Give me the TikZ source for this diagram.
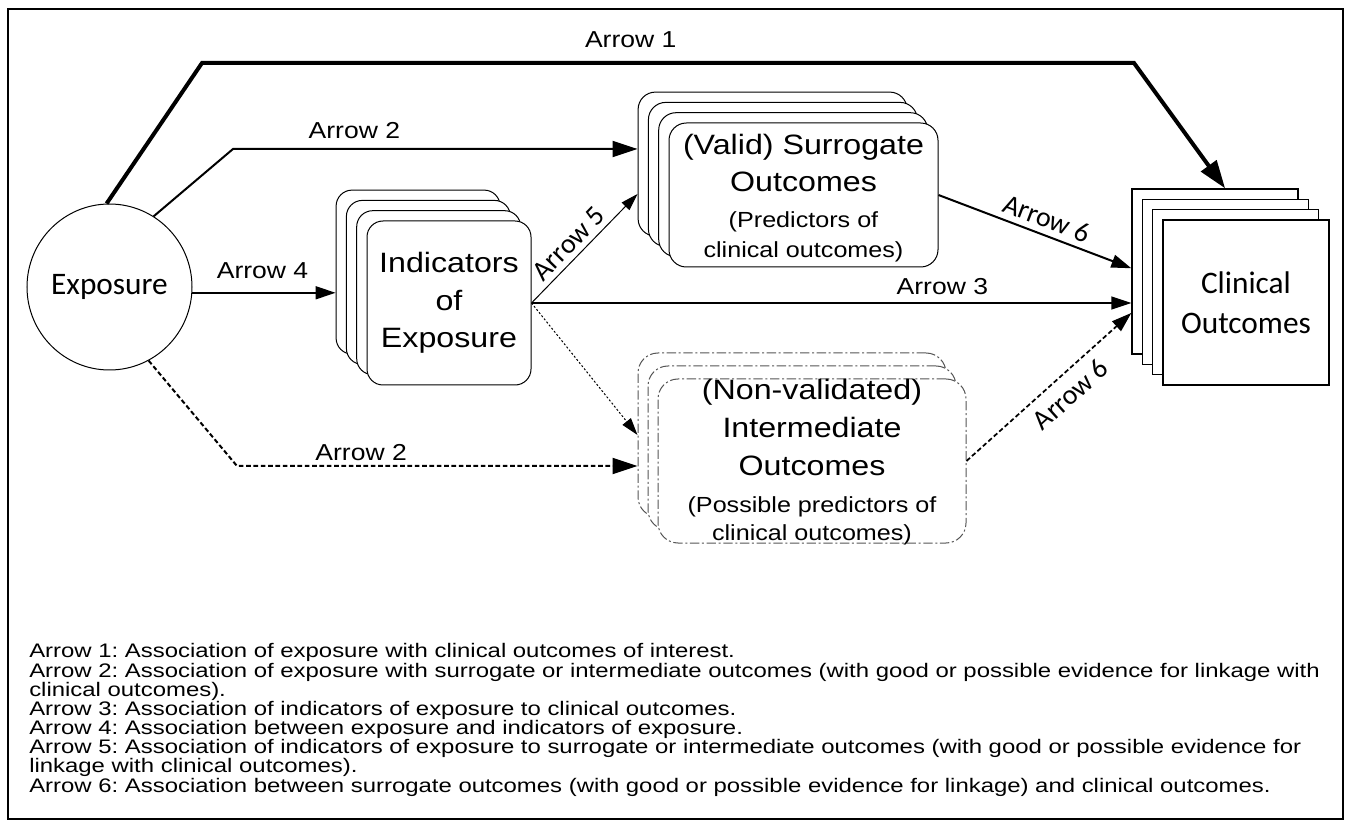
\documentclass[tikz,border=0pt]{standalone}
\usepackage{fontspec}
\usetikzlibrary{arrows.meta,shapes.geometric,positioning}

\newfontfamily\calib{Carlito}
\newfontfamily\arialw[FakeStretch=1.15]{Liberation Sans}
\newfontfamily\notew[FakeStretch=1.22]{Liberation Sans}
\newcommand{\calibtxt}{\calib\fontsize{23.5pt}{30pt}\selectfont}
\newcommand{\slbltxt}{\calib\fontsize{21pt}{24pt}\selectfont}
\newcommand{\bigtxt}{\arialw\fontsize{21pt}{28pt}\selectfont}
\newcommand{\subtxt}{\arialw\fontsize{16.4pt}{22pt}\selectfont}
\newcommand{\lbltxt}{\arialw\fontsize{17.3pt}{20pt}\selectfont}
\newcommand{\notetxt}{\notew\fontsize{14.7pt}{14.36pt}\selectfont\lineskiplimit=-20pt\frenchspacing}
\definecolor{dashgray}{RGB}{85,85,85}

\tikzset{
  indbox/.style={draw, fill=white, line width=0.75pt, rounded corners=12pt,
    minimum width=123pt, minimum height=123pt, inner sep=0pt},
  surbox/.style={draw, fill=white, line width=0.75pt, rounded corners=13pt,
    minimum width=201.75pt, minimum height=108pt, inner sep=0pt},
  intbox/.style={draw=dashgray, fill=white, line width=0.75pt, rounded corners=15pt,
    dash pattern=on 7pt off 2pt on 1.5pt off 2pt,
    minimum width=231pt, minimum height=123pt, inner sep=0pt},
  clibox/.style={draw, fill=white, line width=1.1pt,
    minimum width=124.5pt, minimum height=123.75pt, inner sep=0pt},
  lbl/.style={font=\lbltxt, inner sep=2pt},
  slbl/.style={font=\slbltxt, inner sep=2pt, sloped},
  bigtip/.style={>={Triangle[length=21pt,width=14pt]}},
  midtip/.style={>={Triangle[length=18.75pt,width=12pt]}},
  thintip/.style={>={Triangle[length=13pt,width=8pt]}},
  dashln/.style={dash pattern=on 3.5pt off 2pt},
  dotln/.style={dash pattern=on 1.5pt off 1.5pt}
}

\begin{document}
\begin{tikzpicture}[x=0.75pt, y=-0.75pt, >={Triangle[length=15pt,width=9.75pt]}]
\useasboundingbox (0,0) rectangle (1346,823);
\draw[line width=1.5pt] (8,9) rectangle (1343,819);

% exposure
\node[ellipse, draw, line width=0.75pt, minimum width=116.25pt, minimum height=124.5pt,
  inner sep=0pt, font=\calibtxt] (expo) at (109.5,287) {Exposure};

% indicators of exposure
\node[indbox] (ind1) at (418.1,272.1) {};
\node[indbox] (ind2) at (428.4,282.4) {};
\node[indbox] (ind3) at (438.7,292.7) {};
\node[indbox, align=center, font=\bigtxt] (ind4) at (449,303) {Indicators\\of\\Exposure};

% surrogate outcomes
\node[surbox] (sur1) at (772.6,164.1) {};
\node[surbox] (sur2) at (782.9,174.4) {};
\node[surbox] (sur3) at (793.2,184.7) {};
\node[surbox, align=center, font=\bigtxt] (sur4) at (803.5,195) {};
\node[align=center, font=\bigtxt] (surtext) at (803.5,198) {(Valid) Surrogate\\Outcomes\\[-1pt]{\subtxt (Predictors of}\\[-6pt]{\subtxt clinical outcomes)}};

% intermediate outcomes
\node[intbox] (int1) at (792,435) {};
\node[intbox] (int2) at (802,448) {};
\node[intbox] (int3) at (812,461) {};
\node[align=center, font=\bigtxt] (inttext) at (812,462) {(Non-validated)\\[1pt]Intermediate\\Outcomes\\{\subtxt (Possible predictors of}\\[-7pt]{\subtxt clinical outcomes)}};

% clinical outcomes
\node[clibox] (cli1) at (1215.1,271.6) {};
\node[clibox] (cli2) at (1225.4,281.9) {};
\node[clibox] (cli3) at (1235.7,292.2) {};
\node[clibox, align=center, font=\calibtxt] (cli4) at (1246,302.5) {Clinical\\Outcomes};

% arrows
\coordinate (a1l) at (202,63);
\coordinate (a1r) at (1134,63);
\coordinate (a2t) at (233,149);
\coordinate (a2b) at (237,466);
\draw[->, bigtip, line width=3pt] (expo.92) -- (a1l) -- node[lbl, above=7.75pt, pos=0.46] (lab1) {Arrow 1} (a1r) -- ([xshift=7.5pt]cli1.north);
\draw[->, midtip, line width=1.5pt] (expo.58) -- (a2t) -- node[lbl, above=4.75pt, pos=0.3] (lab2a) {Arrow 2} (a2t -| sur1.west);
\draw[->, line width=1.1pt] (expo.-4) -- node[lbl, above=7.75pt, pos=0.49] (lab4) {Arrow 4} (expo.-4 -| ind1.west);
\draw[->, thintip, line width=0.75pt] (ind4.east) -- node[slbl, above=2pt, pos=0.45] (lab5) {Arrow 5} ([yshift=32pt]sur1.south west);
\draw[->, line width=1.1pt] (ind4.east) -- node[lbl, above=4pt, pos=0.685] (lab3) {Arrow 3} (ind4.east -| cli1.west);
\draw[->, thintip, dotln, line width=0.75pt] (ind4.east) -- (int1.west);
\draw[->, midtip, dashln, line width=1.5pt] (expo.-62) -- (a2b) -- node[lbl, above=1pt, pos=0.31] (lab2b) {Arrow 2} (a2b -| int1.west);
\draw[->, line width=1.5pt] (sur4.east) -- node[slbl, above=2.5pt, pos=0.53] (lab6a) {Arrow 6} ([yshift=2.5pt]cli1.west);
\draw[->, dashln, line width=1.3pt] (int3.east) -- node[slbl, below=5pt, pos=0.55] (lab6b) {Arrow 6} ([yshift=-31pt]cli1.west);

% notes (base anchor sits on the last line)
\node[anchor=base west, inner sep=0pt, align=left, font=\notetxt] (notes) at (29,792) {Arrow 1: Association of exposure with clinical outcomes of interest.\\
Arrow 2: Association of exposure with surrogate or intermediate outcomes (with good or possible evidence for linkage with\\
clinical outcomes).\\
Arrow 3: Association of indicators of exposure to clinical outcomes.\\
Arrow 4: Association between exposure and indicators of exposure.\\
Arrow 5: Association of indicators of exposure to surrogate or intermediate outcomes (with good or possible evidence for\\
linkage with clinical outcomes).\\
Arrow 6: Association between surrogate outcomes (with good or possible evidence for linkage) and clinical outcomes.};
\end{tikzpicture}
\end{document}
